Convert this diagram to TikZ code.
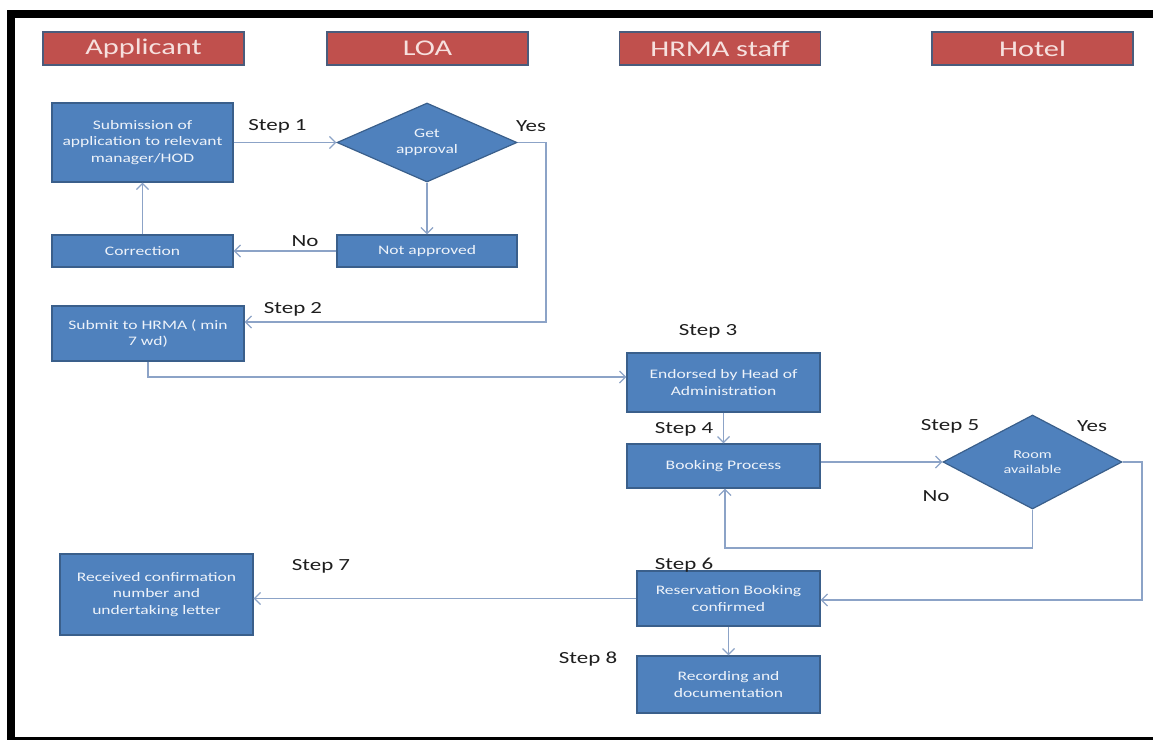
\documentclass[tikz,border=0pt]{standalone}
\usepackage{fontspec}
\setmainfont{Carlito}
\newfontfamily\widefont[FakeStretch=1.35]{Carlito}
\usetikzlibrary{arrows.meta,shapes.geometric,calc}
\definecolor{boxblue}{HTML}{4F81BD}
\definecolor{boxedge}{HTML}{3A5F8B}
\definecolor{lanered}{HTML}{C0504D}
\definecolor{laneedge}{HTML}{4A5C7C}
\definecolor{lanetext}{HTML}{F6E0DE}
\definecolor{flow}{HTML}{8CA3C7}
\definecolor{steptext}{HTML}{1E1E1E}
\definecolor{boxtext}{HTML}{EEF3FA}

\begin{document}
\begin{tikzpicture}[x=1pt,y=-1pt,
  lane/.style={draw=laneedge, line width=1.6pt, fill=lanered,
    minimum width=201pt, minimum height=33pt, inner sep=0pt,
    text=lanetext, font=\widefont\fontsize{22.5}{25}\selectfont},
  proc/.style={draw=boxedge, line width=1.2pt, fill=boxblue, text=boxtext,
    inner sep=0pt, align=center, font=\widefont\fontsize{13}{16.5}\selectfont},
  decide/.style={proc, diamond},
  steplbl/.style={inner sep=0pt, text=steptext,
    font=\widefont\fontsize{17}{20}\selectfont},
  flowline/.style={draw=flow, line width=1.3pt,
    -{Straight Barb[length=6pt,width=12pt]}},
]
\useasboundingbox (0,0) rectangle (1153,740);

% page frame
\fill[black] (7,10) rectangle (1153,18);
\fill[black] (7,10) rectangle (15,740);
\fill[black] (7,737) rectangle (1153,740);

% swimlane headers
\node[lane] (hA) at (143.5,48.5) {Applicant};
\node[lane] (hL) at (427.5,48.5) {LOA};
\node[lane] (hH) at (720,48.5) {HRMA staff};
\node[lane] (hT) at (1032.5,48.5) {Hotel};

% process boxes and decisions
\node[proc, minimum width=181pt, minimum height=79pt] (sub) at (142.5,142.5)
  {Submission of\\application to relevant\\manager/HOD};
\node[decide, minimum width=180pt, minimum height=79pt, aspect=2.3] (appr) at (427,142.5)
  {Get\\approval};
\node[proc, minimum width=180pt, minimum height=32pt] (notap) at (427,251) {Not approved};
\node[proc, minimum width=181pt, minimum height=32pt] (corr) at (142.5,251) {Correction};
\node[proc, minimum width=192pt, minimum height=55pt] (hrma) at (148,333.5)
  {Submit to HRMA ( min\\7 wd)};
\node[proc, minimum width=193pt, minimum height=59pt] (endo) at (723.5,382.5)
  {Endorsed by Head of\\Administration};
\node[proc, minimum width=193pt, minimum height=44pt] (book) at (723.5,466)
  {Booking Process};
\node[decide, minimum width=179pt, minimum height=94pt, aspect=1.9,
  font=\widefont\fontsize{12}{15.5}\selectfont] (room) at (1032.5,462)
  {Room\\available};
\node[proc, minimum width=183pt, minimum height=55pt] (resv) at (728.5,598.5)
  {Reservation Booking\\confirmed};
\node[proc, minimum width=183pt, minimum height=57pt] (rec) at (728.5,684.5)
  {Recording and\\documentation};
\node[proc, minimum width=193pt, minimum height=81pt] (recv) at (156.5,594.5)
  {Received confirmation\\number and\\undertaking letter};

% bend points of the routed connectors
\coordinate (yesA) at (546,322);
\coordinate (toEndo) at (148,377);
\coordinate (noB) at (725,548);
\coordinate (yesB) at (1142,600);

% connectors
\draw[flowline] (sub.east) -- (appr.west);
\draw[flowline] (appr.south) -- (notap.north);
\draw[flowline] (notap.west) -- (corr.east);
\draw[flowline] (corr.north) -- (sub.south);
\draw[flowline] (appr.east) -| (yesA) -- (yesA -| hrma.east);
\draw[flowline] (hrma.south) -- (toEndo) -- (toEndo -| endo.west);
\draw[flowline] (endo.south) -- (book.north);
\draw[flowline] (book.east |- room.west) -- (room.west);
\draw[flowline] (room.south) |- (noB) -- (noB |- book.south);
\draw[flowline] (room.east) -| (yesB) -- (yesB -| resv.east);
\draw[flowline] (resv.west) -- (resv.west -| recv.east);
\draw[flowline] (resv.south) -- (rec.north);

% step and branch labels
\node[steplbl] (s1) at (277.5,126) {Step 1};
\node[steplbl] (y1) at (531,126) {Yes};
\node[steplbl] (n1) at (305,241) {No};
\node[steplbl] (s2) at (293,309) {Step 2};
\node[steplbl] (s3) at (708,331) {Step 3};
\node[steplbl] (s4) at (684,429) {Step 4};
\node[steplbl] (s5) at (950,426) {Step 5};
\node[steplbl] (y2) at (1092,426) {Yes};
\node[steplbl] (n2) at (936,496) {No};
\node[steplbl] (s7) at (321,566) {Step 7};
\node[steplbl] (s6) at (684,565) {Step 6};
\node[steplbl] (s8) at (588,659) {Step 8};
\end{tikzpicture}
\end{document}
